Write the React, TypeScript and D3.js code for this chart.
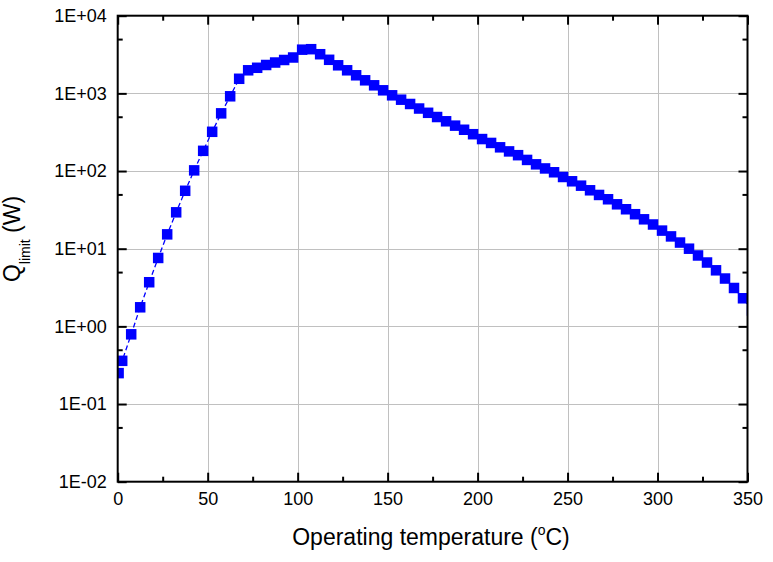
import React, { useEffect, useRef } from 'react';
import * as d3 from 'd3';

// operating temperature (°C)
const temps = [
  0.5, 2.5, 7.5, 12.5, 17.5, 22.5, 27.5, 32.5, 37.5, 42.5, 47.5, 52.5, 57.5, 62.5, 67.5,
  72.5, 77.5, 82.5, 87.5, 92.5, 97.5, 102.5, 107.5, 112.5, 117.5, 122.5, 127.5, 132.5,
  137.5, 142.5, 147.5, 152.5, 157.5, 162.5, 167.5, 172.5, 177.5, 182.5, 187.5, 192.5,
  197.5, 202.5, 207.5, 212.5, 217.5, 222.5, 227.5, 232.5, 237.5, 242.5, 247.5, 252.5,
  257.5, 262.5, 267.5, 272.5, 277.5, 282.5, 287.5, 292.5, 297.5, 302.5, 307.5, 312.5,
  317.5, 322.5, 327.5, 332.5, 337.5, 342.5, 347.5, 352.5,
];

// Q_limit (W)
const qLimit = [
  0.25, 0.36, 0.79, 1.76, 3.7, 7.6, 15.3, 29.4, 55.7, 102, 182, 320, 553, 917, 1541,
  1982, 2135, 2319, 2495, 2690, 2896, 3652, 3705, 3192, 2705, 2298, 1982, 1709,
  1473, 1270, 1095, 944, 829, 730, 638, 562, 496, 437, 384, 340,
  298, 258, 230, 202, 179, 160, 139, 122, 108, 96.4, 83.8, 73.8,
  64.8, 56.5, 49.2, 43.3, 37.3, 32.2, 27.8, 23.9, 20.5, 17.1, 14.4, 12.0,
  10.0, 8.18, 6.64, 5.27, 4.13, 3.12, 2.3, 1.6,
];

const xMajor = [0, 50, 100, 150, 200, 250, 300, 350];
const xMinor = [25, 75, 125, 175, 225, 275, 325];
const yMajor = [1e-2, 1e-1, 1e0, 1e1, 1e2, 1e3, 1e4];
const yMinor = [5e-2, 5e-1, 5e0, 5e1, 5e2, 5e3];
const yLabels = ['1E-02', '1E-01', '1E+00', '1E+01', '1E+02', '1E+03', '1E+04'];

const W = 773;
const H = 562;
const left = 117.7, right = 747.5, top = 15.7, bottom = 481.7;
const FONT = '"Liberation Sans", Arial, sans-serif';

export default function App() {
  const ref = useRef<SVGSVGElement>(null);

  useEffect(() => {
    const svg = d3.select(ref.current);
    svg.selectAll('*').remove();

    const x = d3.scaleLinear().domain([0, 350]).range([left, right]);
    const y = d3.scaleLog().domain([1e-2, 1e4]).range([bottom, top]);

    svg.append('rect').attr('width', W).attr('height', H).attr('fill', '#fff');

    svg.append('clipPath').attr('id', 'plot-clip')
      .append('rect')
      .attr('x', left).attr('y', top)
      .attr('width', right - left).attr('height', bottom - top);

    // grid
    const grid = svg.append('g').attr('stroke', '#c0c0c0').attr('stroke-width', 1);
    grid.selectAll('.gx')
      .data(xMajor.slice(1, -1))
      .enter().append('line')
      .attr('x1', d => Math.round(x(d)) + 0.5).attr('x2', d => Math.round(x(d)) + 0.5)
      .attr('y1', top).attr('y2', bottom);
    grid.selectAll('.gy')
      .data(yMajor.slice(1, -1))
      .enter().append('line')
      .attr('y1', d => Math.round(y(d)) + 0.5).attr('y2', d => Math.round(y(d)) + 0.5)
      .attr('x1', left).attr('x2', right);

    // data
    const data = temps.map((t, i) => ({ t, q: qLimit[i] }));
    const plot = svg.append('g').attr('clip-path', 'url(#plot-clip)');
    const line = d3.line<{ t: number; q: number }>().x(d => x(d.t)).y(d => y(d.q));
    plot.append('path')
      .datum(data)
      .attr('d', line)
      .attr('fill', 'none')
      .attr('stroke', '#0000ff')
      .attr('stroke-width', 1.3)
      .attr('stroke-dasharray', '5,3');
    const s = 10.5;
    plot.selectAll('.pt')
      .data(data)
      .enter().append('rect')
      .attr('x', d => x(d.t) - s / 2)
      .attr('y', d => y(d.q) - s / 2)
      .attr('width', s).attr('height', s)
      .attr('fill', '#0000ff');

    // axes
    const styleAxis = (g: any) => {
      g.select('.domain').remove();
      g.selectAll('line').attr('stroke', '#000').attr('stroke-width', 2);
      g.selectAll('text').attr('font-family', FONT).attr('font-size', 18).attr('fill', '#000');
    };

    svg.append('g').attr('transform', `translate(0,${bottom})`)
      .call(d3.axisBottom(x).tickValues(xMajor).tickFormat(d3.format('d')).tickSizeInner(-9).tickSizeOuter(0).tickPadding(11))
      .call(styleAxis);
    svg.append('g').attr('transform', `translate(0,${bottom})`)
      .call(d3.axisBottom(x).tickValues(xMinor).tickFormat(() => '').tickSizeInner(-5).tickSizeOuter(0))
      .call(styleAxis);
    svg.append('g').attr('transform', `translate(0,${top})`)
      .call(d3.axisTop(x).tickValues(xMajor).tickFormat(() => '').tickSizeInner(-9).tickSizeOuter(0))
      .call(styleAxis);
    svg.append('g').attr('transform', `translate(0,${top})`)
      .call(d3.axisTop(x).tickValues(xMinor).tickFormat(() => '').tickSizeInner(-5).tickSizeOuter(0))
      .call(styleAxis);

    svg.append('g').attr('transform', `translate(${left},0)`)
      .call(d3.axisLeft(y).tickValues(yMajor).tickFormat((d, i) => yLabels[i]).tickSizeInner(-9).tickSizeOuter(0).tickPadding(11))
      .call(styleAxis);
    svg.append('g').attr('transform', `translate(${left},0)`)
      .call(d3.axisLeft(y).tickValues(yMinor).tickFormat(() => '').tickSizeInner(-5).tickSizeOuter(0))
      .call(styleAxis);
    svg.append('g').attr('transform', `translate(${right},0)`)
      .call(d3.axisRight(y).tickValues(yMajor).tickFormat(() => '').tickSizeInner(-9).tickSizeOuter(0))
      .call(styleAxis);
    svg.append('g').attr('transform', `translate(${right},0)`)
      .call(d3.axisRight(y).tickValues(yMinor).tickFormat(() => '').tickSizeInner(-5).tickSizeOuter(0))
      .call(styleAxis);

    // frame
    svg.append('rect')
      .attr('x', left).attr('y', top)
      .attr('width', right - left).attr('height', bottom - top)
      .attr('fill', 'none').attr('stroke', '#000').attr('stroke-width', 2);

    // x title
    const xt = svg.append('text')
      .attr('x', 431).attr('y', 545)
      .attr('text-anchor', 'middle')
      .attr('font-family', FONT).attr('font-size', 23).attr('fill', '#000');
    xt.append('tspan').text('Operating temperature (');
    xt.append('tspan').attr('dy', -10).attr('font-size', 14).text('o');
    xt.append('tspan').attr('dy', 10).text('C)');

    // y title
    const yt = svg.append('text')
      .attr('transform', 'translate(20,239) rotate(-90)')
      .attr('text-anchor', 'middle')
      .attr('font-family', FONT).attr('font-size', 23).attr('fill', '#000');
    yt.append('tspan').text('Q');
    yt.append('tspan').attr('dy', 10).attr('font-size', 14).text('limit');
    yt.append('tspan').attr('dy', -10).text(' (W)');
  }, []);

  return (
    <svg
      ref={ref}
      width={W}
      height={H}
      viewBox={`0 0 ${W} ${H}`}
      style={{ position: 'absolute', left: 0, top: 0, display: 'block' }}
    />
  );
}
